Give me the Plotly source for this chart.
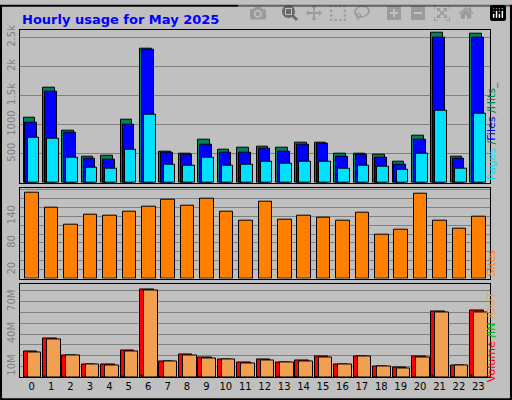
import plotly.graph_objects as go

hours = list(range(24))
hits = [1119,1627,898,441,458,1085,2311,542,492,734,565,610,627,610,695,695,497,508,475,356,814,2576,441,2559]
files = [1040,1559,864,407,390,1000,2288,525,475,661,525,525,593,542,661,678,441,475,424,305,746,2492,407,2492]
pages = [780,763,424,254,237,576,1169,305,288,424,288,305,356,322,356,356,237,288,271,220,508,1237,237,1186]
sites = [193,158,120,144,142,151,162,177,164,179,149,129,173,133,142,136,129,147,98,109,190,129,112,140]
vol_mb = [23.7,36.3,20,12,12,24.6,81.4,14.7,21,18.3,16.5,13.8,16.5,13.8,15.6,19.2,12,19.2,10.2,9.3,19.2,60.7,11.1,61.6]
out_mb = [22.8,35.4,20,12,11.1,23.7,80.5,14.7,20,17.4,16.5,12.9,15.6,13.8,14.7,18.3,12,19.2,10.2,8.4,18.3,59.8,11.1,59.8]
in_mb = [0.8,0.5,0,0,0,0.5,1.5,0,0,0,0,0,0,0,0,0,0,0,0,0,0,1.5,0,1.5]

fig = go.Figure()
ln = dict(color="black", width=1)
def bar(y, color, off, w, ax):
    fig.add_trace(go.Bar(x=hours, y=y, marker=dict(color=color, line=ln), offset=off, width=w,
                         xaxis="x"+ax, yaxis="y"+ax, showlegend=False))
bar(hits, "#00805C", -0.42, 0.6, "")
bar(files, "#0000FF", -0.32, 0.6, "")
bar(pages, "#00E0FF", -0.21, 0.6, "")
bar(sites, "#FF8000", -0.32, 0.7, "2")
bar(vol_mb, "#FF0000", -0.42, 0.7, "3")
bar(out_mb, "#F0A050", -0.21, 0.7, "3")
bar(in_mb, "#00C000", -0.42, 0.1, "3")

xd = [20/512, 490/512]
common_x = dict(domain=xd, range=[-0.6, 23.6], showgrid=False, mirror=True, showline=True,
                linecolor="black", linewidth=1, zeroline=False)
fig.update_layout(
    width=512, height=400, margin=dict(l=0, r=0, t=0, b=0),
    paper_bgcolor="#C0C0C0", plot_bgcolor="#C0C0C0", barmode="overlay", bargap=0,
    font=dict(family="DejaVu Sans", size=10, color="black"),
    xaxis=dict(**common_x, anchor="y", showticklabels=False, ticks=""),
    xaxis2=dict(**common_x, anchor="y2", showticklabels=False, ticks="", matches="x"),
    xaxis3=dict(**common_x, anchor="y3", tickvals=hours, ticks="", matches="x"),
    yaxis=dict(domain=[0.55, 0.9375], range=[0, 2633], tickvals=[500,1000,1500,2000,2500],
               ticktext=["500","1000","1.5k","2k","2.5k"], tickangle=-90, tickfont=dict(color="#808080"),
               gridcolor="#808080", showline=True, mirror=True, linecolor="black", zeroline=False),
    yaxis2=dict(domain=[0.3075, 0.5375], range=[0, 204], tickvals=list(range(20, 201, 20)),
                ticktext=["20","","","80","","","140","","",""], tickangle=-90, tickfont=dict(color="#808080"),
                gridcolor="#808080", showline=True, mirror=True, linecolor="black", zeroline=False),
    yaxis3=dict(domain=[0.0575, 0.2925], range=[0, 86], tickvals=list(range(10, 81, 10)),
                ticktext=["10M","","","40M","","","70M",""], tickangle=-90, tickfont=dict(color="#808080"),
                gridcolor="#808080", showline=True, mirror=True, linecolor="black", zeroline=False),
    shapes=[dict(type="rect", xref="paper", yref="paper", x0=0.002, x1=0.998, y0=0.002, y1=0.998,
                 line=dict(color="black", width=2))],
    annotations=[
        dict(text="<b>Hourly usage for May 2025</b>", x=20/512, y=1-15/400, xref="paper", yref="paper",
             xanchor="left", yanchor="middle", showarrow=False, font=dict(size=13, color="#0000FF")),
        dict(text="<span style='color:#00E0FF'>Pages</span> /<span style='color:#0000FF'>Files</span> /<span style='color:#00805C'>Hits_</span>",
             x=500/512, y=1-180/400, xref="paper", yref="paper", yanchor="bottom", textangle=-90,
             showarrow=False, font=dict(size=11, color="#00805C")),
        dict(text="Sites", x=500/512, y=1-277/400, xref="paper", yref="paper", yanchor="bottom", textangle=-90,
             showarrow=False, font=dict(size=11, color="#FF8000")),
        dict(text="<span style='color:#FF0000'>Volume</span> <span style='color:#00C000'>/IN</span> <span style='color:#F0A050'>/OUT</span>",
             x=500/512, y=1-384/400, xref="paper", yref="paper", yanchor="bottom", textangle=-90,
             showarrow=False, font=dict(size=11)),
    ],
)
fig.write_html("out.html", post_script="document.body.style.margin='0';document.body.style.overflow='hidden';")
